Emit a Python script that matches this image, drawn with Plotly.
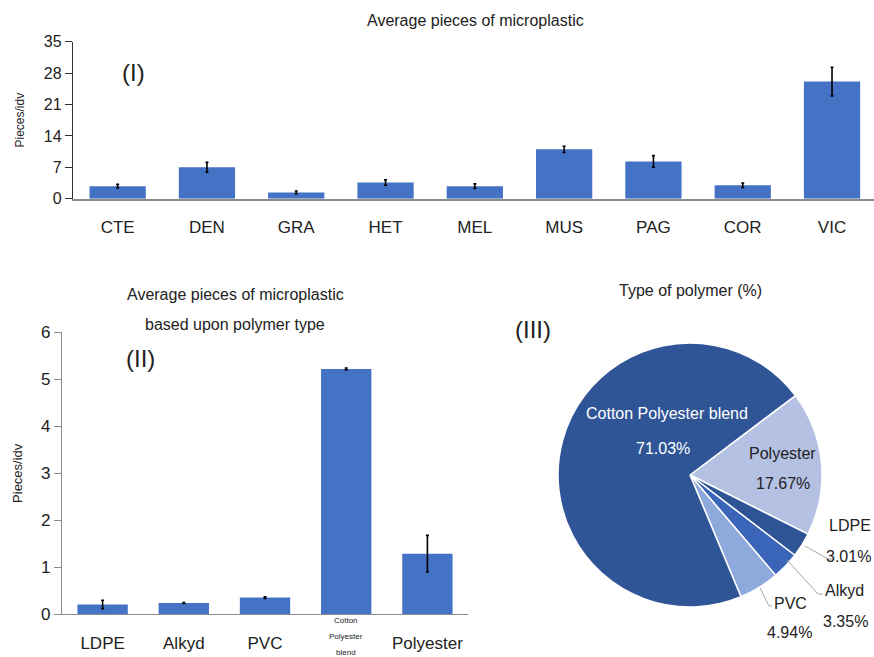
import plotly.graph_objects as go

# ---- Panel I: average pieces per individual, by species ----
species = ["CTE", "DEN", "GRA", "HET", "MEL", "MUS", "PAG", "COR", "VIC"]
species_mean = [2.8, 7.0, 1.4, 3.6, 2.8, 11.0, 8.3, 3.0, 26.1]
species_err = [0.4, 1.1, 0.3, 0.6, 0.5, 0.7, 1.3, 0.5, 3.2]

# ---- Panel II: average pieces per individual, by polymer type ----
polymers = ["LDPE", "Alkyd", "PVC", "Cotton Polyester blend", "Polyester"]
polymer_mean = [0.21, 0.24, 0.355, 5.22, 1.29]
polymer_err = [0.09, 0.01, 0.02, 0.02, 0.39]

# ---- Panel III: share of polymer types (%) ----
pie_labels = ["Polyester", "LDPE", "Alkyd", "PVC", "Cotton Polyester blend"]
pie_values = [17.67, 3.01, 3.35, 4.94, 71.03]
pie_colors = ["#B4C1E2", "#2E5496", "#3A65B8", "#8EA9DB", "#2F5597"]

BAR = "#4472C4"
FONT = "Liberation Sans, Arial, sans-serif"
W, H = 874, 657


def px(x):
    return x / W


def py(y):
    return 1 - y / H


fig = go.Figure()

fig.add_trace(go.Bar(
    x=species, y=species_mean, marker=dict(color=BAR, line=dict(width=0)),
    error_y=dict(type="data", array=species_err, color="black", thickness=1.6, width=1.5),
    xaxis="x", yaxis="y", width=0.63, showlegend=False,
))

fig.add_trace(go.Bar(
    x=polymers, y=polymer_mean, marker=dict(color=BAR, line=dict(width=0)),
    error_y=dict(type="data", array=polymer_err, color="black", thickness=1.6, width=1.5),
    xaxis="x2", yaxis="y2", width=0.62, showlegend=False,
))

fig.add_trace(go.Pie(
    labels=pie_labels, values=pie_values, sort=False, direction="clockwise",
    rotation=53, textinfo="none", hoverinfo="label+percent",
    marker=dict(colors=pie_colors, line=dict(color="white", width=1.5)),
    domain=dict(x=[px(558), px(822)], y=[py(607), py(343)]),
    showlegend=False,
))

axis_font = dict(family=FONT, size=16, color="#222222")

fig.update_layout(
    width=W, height=H, margin=dict(l=0, r=0, t=0, b=0, autoexpand=False),
    paper_bgcolor="white", plot_bgcolor="white",
    font=dict(family=FONT, color="#222222"),
    xaxis=dict(domain=[px(73), 1], range=[-0.5, 8.47], showline=True,
               linecolor="#8c8c8c", linewidth=2, ticks="", showgrid=False,
               tickfont=dict(family=FONT, size=17, color="#222222"), anchor="y",
               ticklabelstandoff=12, automargin=False),
    yaxis=dict(domain=[py(198.7), py(41.7)], range=[0, 35], tickvals=[0, 7, 14, 21, 28, 35],
               showline=True, linecolor="#333333", linewidth=1.3, ticks="outside",
               ticklen=7, tickcolor="#333333", tickwidth=1.3, showgrid=False, zeroline=False,
               tickfont=axis_font, anchor="x", automargin=False,
               title=dict(text="Pieces/idv", font=dict(family=FONT, size=12, color="#222222"),
                          standoff=16)),
    yaxis3=dict(domain=[py(198.7), py(41.7)], range=[0, 35], tickvals=[0, 7, 14, 21, 28, 35],
                overlaying="y", anchor="x", showline=False, ticks="inside", ticklen=7,
                tickcolor="#333333", tickwidth=1.3, showticklabels=False, showgrid=False,
                zeroline=False, automargin=False),
    xaxis2=dict(domain=[px(62), px(468)], range=[-0.5, 4.5], showline=True,
                linecolor="#8c8c8c", linewidth=1.3, ticks="", showgrid=False,
                tickfont=dict(family=FONT, size=17, color="#222222"), anchor="y2",
                automargin=False, ticklabelstandoff=13,
                tickvals=polymers,
                ticktext=[p if p != "Cotton Polyester blend" else "" for p in polymers]),
    yaxis2=dict(domain=[py(614.3), py(332.3)], range=[0, 6], tickvals=[0, 1, 2, 3, 4, 5, 6],
                showline=True, linecolor="#8c8c8c", linewidth=1.3, ticks="outside",
                ticklen=7, tickcolor="#8c8c8c", tickwidth=1.3, showgrid=False, zeroline=False,
                tickfont=dict(family=FONT, size=17, color="#222222"), anchor="x2",
                automargin=False,
                title=dict(text="Pieces/idv", font=dict(family=FONT, size=13, color="#222222"),
                           standoff=15)),
    yaxis4=dict(domain=[py(614.3), py(332.3)], range=[0, 6], tickvals=[0, 1, 2, 3, 4, 5, 6],
                overlaying="y2", anchor="x2", showline=False, ticks="inside", ticklen=7,
                tickcolor="#8c8c8c", tickwidth=1.3, showticklabels=False, showgrid=False,
                zeroline=False, automargin=False),
)


def note(x, y, text, size=13, color="#222222", anchor="center"):
    fig.add_annotation(x=px(x), y=py(y), xref="paper", yref="paper", text=text,
                       showarrow=False, xanchor=anchor, yanchor="middle",
                       font=dict(family=FONT, size=size, color=color))


# Three-line, small-font category label under the blend bar
for i, word in enumerate("Cotton Polyester blend".split()):
    fig.add_annotation(x="Cotton Polyester blend", xref="x2", y=py(620 + 16 * i),
                       yref="paper", text=word, showarrow=False, yanchor="middle",
                       font=dict(family=FONT, size=8, color="#222222"))

# Titles and panel tags
note(475, 20, "Average pieces of microplastic", 16)
note(133, 72, "(I)", 24)
note(235, 295, "Average pieces of microplastic", 16)
note(235, 324, "based upon polymer type", 16)
note(140, 358, "(II)", 24)
note(690, 290, "Type of polymer (%)", 16)
note(533, 329, "(III)", 24)

# Pie labels
pct = {lab: f"{v:.2f}%" for lab, v in zip(pie_labels, pie_values)}
note(667, 413, "Cotton Polyester blend", 16, "white")
note(663, 448, pct["Cotton Polyester blend"], 16, "white")
note(782, 453, "Polyester", 16)
note(783, 483, pct["Polyester"], 16)
note(873, 525, "LDPE", 16, anchor="right")
note(873, 556, pct["LDPE"], 16, anchor="right")
note(823, 590, "Alkyd", 16, anchor="left")
note(821, 621, pct["Alkyd"], 16, anchor="left")
note(772, 603, "PVC", 16, anchor="left")
note(789, 632, pct["PVC"], 16)

# Leader lines for the small slices
leaders = [
    [(805, 546), (828, 559), (834, 559)],
    [(787, 560), (818, 594), (823, 594)],
    [(760, 588), (769, 606), (772, 606)],
]
for pts in leaders:
    path = "M " + " L ".join(f"{px(x)} {py(y)}" for x, y in pts)
    fig.add_shape(type="path", path=path, xref="paper", yref="paper",
                  line=dict(color="#a6a6a6", width=1))

fig.write_html("out.html")
